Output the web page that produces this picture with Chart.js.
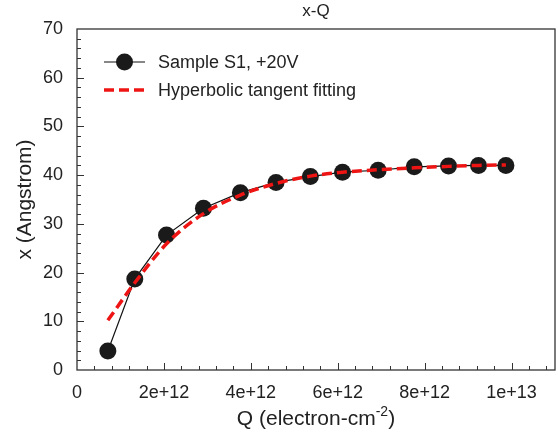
<!DOCTYPE html>
<html>
<head>
<meta charset="utf-8">
<script src="https://cdn.jsdelivr.net/npm/chart.js@4.4.1/dist/chart.umd.min.js"></script>
<style>
  html, body { margin: 0; padding: 0; background: #fff; }
</style>
</head>
<body>
<canvas id="xq" width="558" height="442"></canvas>
<script>
// Q is kept in units of 1e12 electron/cm^2 so the linear scale steps stay exact
const Q_UNIT = 1e12;

// measured thickness vs. injected charge
const chargeQ = [0.71, 1.33, 2.06, 2.91, 3.76, 4.58, 5.37, 6.11, 6.93, 7.76, 8.55, 9.24, 9.87];
const thickness = [3.9, 18.7, 27.7, 33.2, 36.4, 38.5, 39.7, 40.6, 41.0, 41.7, 41.9, 42.0, 42.0];

// tanh fit curve
const fitQ = [0.71, 1.33, 2.06, 2.91, 3.76, 4.58, 5.37, 6.11, 6.93, 7.76, 8.55, 9.24, 9.87];
const fitX = [10.2, 17.9, 25.9, 32.1, 35.9, 38.3, 39.8, 40.6, 41.1, 41.5, 41.8, 42.0, 42.1];

const qTickLabels = ["0", "2e+12", "4e+12", "6e+12", "8e+12", "1e+13"];
const qMax = 11;
const qMajor = 2;
const qMinor = 0.4;
const xTickLabels = ["0", "10", "20", "30", "40", "50", "60", "70"];
const xMax = 70;
const xMajor = 10;
const xMinor = 2;

const chartTitle = "x-Q";
const seriesLabels = ["Sample S1, +20V", "Hyperbolic tangent fitting"];
const FONT = "'Liberation Sans', Arial, sans-serif";

function toPoints(xs, ys) {
  return xs.map((v, i) => ({ x: v, y: ys[i] }));
}

function majorIndex(v, step) {
  const i = Math.round(v / step);
  return Math.abs(v - i * step) < step * 1e-3 ? i : -1;
}

// box around the plot and inward tick marks
const frameTicks = {
  id: "frameTicks",
  afterDraw(chart) {
    const { ctx, chartArea: a, scales } = chart;
    ctx.save();
    ctx.strokeStyle = "#333";
    ctx.lineWidth = 1.3;
    ctx.strokeRect(a.left, a.top, a.right - a.left, a.bottom - a.top);
    ctx.lineWidth = 1;
    ctx.beginPath();
    for (let i = 1; i * qMinor < qMax - 1e-6; i++) {
      const v = i * qMinor;
      const isMajor = majorIndex(v, qMajor) >= 0;
      const px = Math.round(scales.x.getPixelForValue(v)) + 0.5;
      ctx.moveTo(px, a.bottom);
      ctx.lineTo(px, a.bottom - (isMajor ? 7 : 4));
    }
    for (let i = 1; i * xMinor < xMax - 1e-6; i++) {
      const v = i * xMinor;
      const isMajor = majorIndex(v, xMajor) >= 0;
      const py = Math.round(scales.y.getPixelForValue(v)) + 0.5;
      ctx.moveTo(a.left, py);
      ctx.lineTo(a.left + (isMajor ? 7 : 4), py);
    }
    ctx.stroke();
    ctx.restore();
  },
};

// chart title and x axis title (with superscript), centred on the plot
const titles = {
  id: "titles",
  afterDraw(chart) {
    const { ctx, chartArea: a } = chart;
    const cx = (a.left + a.right) / 2;
    ctx.save();
    ctx.fillStyle = "#222";
    ctx.font = "17px " + FONT;
    ctx.textAlign = "center";
    ctx.textBaseline = "middle";
    ctx.fillText(chartTitle, cx, 11);

    const main = "Q (electron-cm";
    const sup = "-2";
    const close = ")";
    ctx.textAlign = "left";
    ctx.textBaseline = "alphabetic";
    ctx.font = "21px " + FONT;
    const w1 = ctx.measureText(main).width;
    const w3 = ctx.measureText(close).width;
    ctx.font = "14px " + FONT;
    const w2 = ctx.measureText(sup).width;
    let x = cx - (w1 + w2 + w3) / 2;
    const base = 425;
    ctx.font = "21px " + FONT;
    ctx.fillText(main, x, base);
    x += w1;
    ctx.font = "14px " + FONT;
    ctx.fillText(sup, x, base - 9);
    x += w2;
    ctx.font = "21px " + FONT;
    ctx.fillText(close, x, base);
    ctx.restore();
  },
};

// legend drawn inside the plot, top left
const innerLegend = {
  id: "innerLegend",
  afterDraw(chart) {
    const { ctx, chartArea: a } = chart;
    const rows = [62, 90];
    ctx.save();
    ctx.font = "18px " + FONT;
    ctx.textBaseline = "middle";
    chart.data.datasets.forEach((ds, i) => {
      const y = rows[i];
      const x0 = a.left + 27;
      const x1 = a.left + 68;
      ctx.strokeStyle = ds.borderColor;
      ctx.lineWidth = ds.borderWidth;
      ctx.setLineDash(ds.borderDash || []);
      ctx.beginPath();
      ctx.moveTo(x0, y);
      ctx.lineTo(x1, y);
      ctx.stroke();
      ctx.setLineDash([]);
      if (ds.pointRadius > 0) {
        ctx.fillStyle = ds.pointBackgroundColor;
        ctx.beginPath();
        ctx.arc((x0 + x1) / 2, y, ds.pointRadius, 0, Math.PI * 2);
        ctx.fill();
      }
      ctx.fillStyle = "#222";
      ctx.fillText(ds.label, a.left + 81, y + 1);
    });
    ctx.restore();
  },
};

new Chart(document.getElementById("xq"), {
  type: "line",
  data: {
    datasets: [
      {
        label: seriesLabels[0],
        data: toPoints(chargeQ, thickness),
        borderColor: "#111",
        borderWidth: 1.2,
        pointRadius: 8.5,
        pointBackgroundColor: "#1a1a1a",
        pointBorderColor: "#1a1a1a",
        pointBorderWidth: 0,
        tension: 0,
        order: 1,
      },
      {
        label: seriesLabels[1],
        data: toPoints(fitQ, fitX),
        borderColor: "#ee1414",
        borderWidth: 3.5,
        borderDash: [10, 5],
        pointRadius: 0,
        cubicInterpolationMode: "monotone",
        order: 0,
      },
    ],
  },
  options: {
    responsive: false,
    animation: false,
    // big markers would otherwise add their own padding round the plot
    layout: { autoPadding: false, padding: { left: 0, right: 3, top: 29, bottom: 0 } },
    plugins: {
      legend: { display: false },
      tooltip: { enabled: false },
      title: { display: false },
    },
    scales: {
      x: {
        type: "linear",
        min: 0,
        max: qMax,
        grid: { display: false, drawTicks: false },
        border: { display: false },
        ticks: {
          stepSize: qMajor,
          autoSkip: false,
          maxRotation: 0,
          padding: 12,
          color: "#222",
          font: { family: FONT, size: 18 },
          callback: (v) => {
            const i = majorIndex(v, qMajor);
            return i >= 0 && i < qTickLabels.length ? qTickLabels[i] : "";
          },
        },
        afterFit: (s) => {
          s.height = 72;
          s.paddingLeft = 0;
          s.paddingRight = 0;
        },
      },
      y: {
        min: 0,
        max: xMax,
        grid: { display: false, drawTicks: false },
        border: { display: false },
        ticks: {
          stepSize: xMajor,
          autoSkip: false,
          padding: 14,
          color: "#222",
          font: { family: FONT, size: 18 },
          callback: (v) => {
            const i = majorIndex(v, xMajor);
            return i >= 0 ? xTickLabels[i] : "";
          },
        },
        title: {
          display: true,
          text: "x (Angstrom)",
          color: "#222",
          font: { family: FONT, size: 21 },
          padding: { top: 13, bottom: 0 },
        },
        afterFit: (s) => {
          s.width = 77;
          s.paddingTop = 0;
          s.paddingBottom = 0;
        },
      },
    },
  },
  plugins: [frameTicks, titles, innerLegend],
});
</script>
</body>
</html>
